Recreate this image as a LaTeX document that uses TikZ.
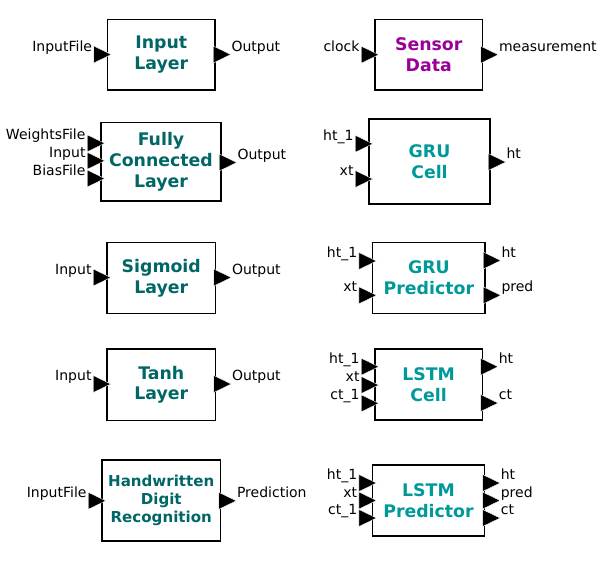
\documentclass[tikz,border=0pt]{standalone}
\usepackage{fontspec}
\setmainfont{DejaVu Sans}
\usepackage{xcolor}
\definecolor{LAYERCOLOR}{RGB}{0,102,102}
\definecolor{CELLCOLOR}{RGB}{0,153,153}
\definecolor{SENSORCOLOR}{RGB}{153,0,153}
\usepackage{tikz}
\usetikzlibrary{calc}
\newlength\px
\setlength\px{0.75pt}
\tikzset{
  block-style/.style = {
    rectangle, draw, line width=1.5\px,
    text=#1, align=center, inner sep=0pt,
    font=\fontsize{13}{15.5}\selectfont\bfseries
  },
  layer-style/.style = {
    block-style=LAYERCOLOR
  },
  app-style/.style = {
    block-style=LAYERCOLOR,
    font=\fontsize{11.3}{13.5}\selectfont\bfseries
  },
  cell-style/.style = {
    block-style=CELLCOLOR
  },
  sensor-style/.style = {
    block-style=SENSORCOLOR
  },
  port-style/.style = {
    fill=black, draw=white, line width=0.3pt
  },
  port-label-style/.style = {
    inner sep=0pt, font=\fontsize{10.5}{12}\selectfont
  }
}
\def\createBlock name:#1 style:#2 at:#3 size:#4x#5 display:#6;{
  \node [#2, minimum width=#4\px, minimum height=#5\px] (#1) at (#3) {#6};
}
\def\createInput name:#1 block:#2 y:#3 label:#4;{
  \coordinate (#1) at (#2.west |- 0,#3);
  \fill [port-style] ([xshift=-13\px,yshift=8.5\px]#1) -- ([xshift=4.5\px]#1)
    -- ([xshift=-13\px,yshift=-8.5\px]#1) -- cycle;
  \node [port-label-style, anchor=base east] (#1-label)
    at ([xshift=-14.5\px,yshift=3.5\px]#1) {#4};
}
\def\createOutput name:#1 block:#2 y:#3 label:#4;{
  \coordinate (#1) at (#2.east |- 0,#3);
  \fill [port-style] ([xshift=-2.5\px,yshift=8.5\px]#1) -- ([xshift=15\px]#1)
    -- ([xshift=-2.5\px,yshift=-8.5\px]#1) -- cycle;
  \node [port-label-style, anchor=base west] (#1-label)
    at ([xshift=15.5\px,yshift=3.5\px]#1) {#4};
}

\begin{document}
\begin{tikzpicture}[x=\px, y=-\px]
  \useasboundingbox (0,0) rectangle (605,562);

  % layers
  \createBlock name:input style:layer-style at:{161.25,54.75} size:107.5x70.5 display:{Input\\Layer};
  \createInput name:input-in block:input y:54.5 label:InputFile;
  \createOutput name:input-out block:input y:54.5 label:Output;

  \createBlock name:fc style:layer-style at:{161,161.75} size:120x78.5 display:{Fully\\Connected\\Layer};
  \createInput name:fc-weights block:fc y:143.3 label:WeightsFile;
  \createInput name:fc-in block:fc y:160.8 label:Input;
  \createInput name:fc-bias block:fc y:178.5 label:BiasFile;
  \createOutput name:fc-out block:fc y:162.5 label:Output;

  \createBlock name:sigmoid style:layer-style at:{161.25,278} size:108.5x71 display:{Sigmoid\\Layer};
  \createInput name:sigmoid-in block:sigmoid y:277.5 label:Input;
  \createOutput name:sigmoid-out block:sigmoid y:277.5 label:Output;

  \createBlock name:tanh style:layer-style at:{161.25,384.75} size:108.5x71.5 display:{Tanh\\Layer};
  \createInput name:tanh-in block:tanh y:384 label:Input;
  \createOutput name:tanh-out block:tanh y:384 label:Output;

  \createBlock name:digit style:app-style at:{161.25,500.5} size:118.5x81 display:{Handwritten\\Digit\\Recognition};
  \createInput name:digit-in block:digit y:500.8 label:InputFile;
  \createOutput name:digit-out block:digit y:500.8 label:Prediction;

  % recurrent cells
  \createBlock name:sensor style:sensor-style at:{428.75,54.75} size:107.5x70.5 display:{Sensor\\Data};
  \createInput name:sensor-clock block:sensor y:54.7 label:clock;
  \createOutput name:sensor-out block:sensor y:54.7 label:measurement;

  \createBlock name:gru style:cell-style at:{429.5,161.5} size:121x85 display:{GRU\\Cell};
  \createInput name:gru-h block:gru y:143.8 label:ht\_1;
  \createInput name:gru-x block:gru y:179 label:xt;
  \createOutput name:gru-out block:gru y:162 label:ht;

  \createBlock name:grup style:cell-style at:{428.85,277.8} size:112.3x71 display:{GRU\\Predictor};
  \createInput name:grup-h block:grup y:261 label:ht\_1;
  \createInput name:grup-x block:grup y:295.3 label:xt;
  \createOutput name:grup-out block:grup y:260.5 label:ht;
  \createOutput name:grup-pred block:grup y:295.3 label:pred;

  \createBlock name:lstm style:cell-style at:{428.65,384.5} size:107.3x71 display:{LSTM\\Cell};
  \createInput name:lstm-h block:lstm y:366.7 label:ht\_1;
  \createInput name:lstm-x block:lstm y:385 label:xt;
  \createInput name:lstm-c block:lstm y:403.3 label:ct\_1;
  \createOutput name:lstm-hout block:lstm y:366.7 label:ht;
  \createOutput name:lstm-cout block:lstm y:403 label:ct;

  \createBlock name:lstmp style:cell-style at:{428.5,500.5} size:111.6x71 display:{LSTM\\Predictor};
  \createInput name:lstmp-h block:lstmp y:483 label:ht\_1;
  \createInput name:lstmp-x block:lstmp y:500.5 label:xt;
  \createInput name:lstmp-c block:lstmp y:518 label:ct\_1;
  \createOutput name:lstmp-hout block:lstmp y:483 label:ht;
  \createOutput name:lstmp-pred block:lstmp y:500.5 label:pred;
  \createOutput name:lstmp-cout block:lstmp y:518 label:ct;
\end{tikzpicture}
\end{document}
